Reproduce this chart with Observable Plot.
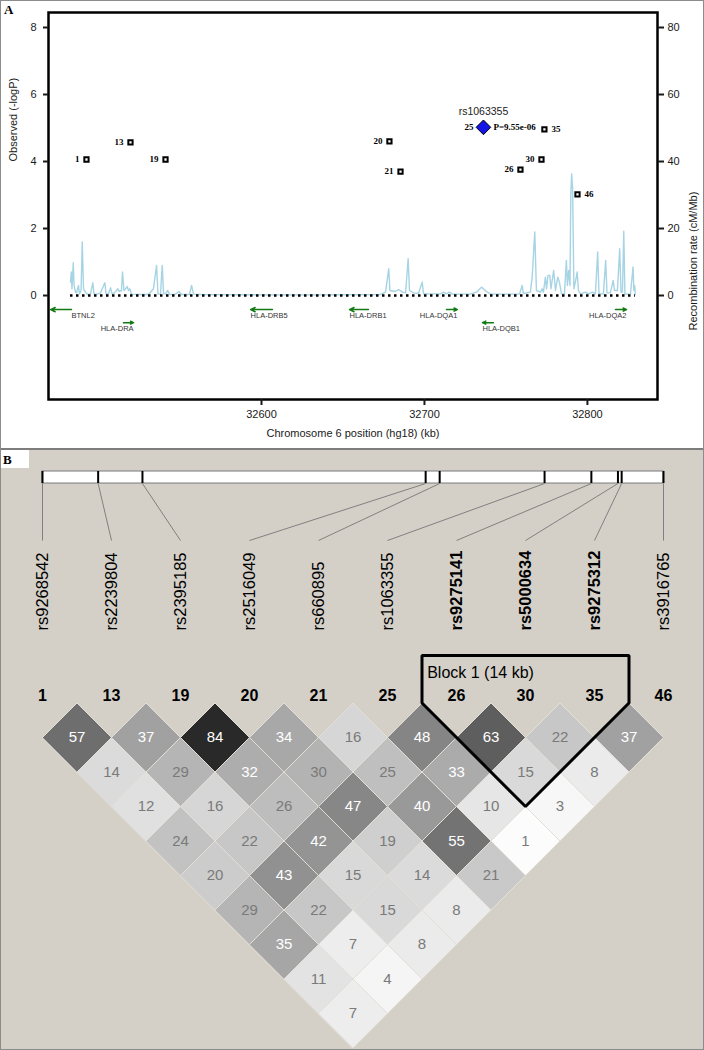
<!DOCTYPE html>
<html><head><meta charset="utf-8">
<script src="https://cdn.jsdelivr.net/npm/d3@7"></script>
<script src="https://cdn.jsdelivr.net/npm/@observablehq/plot@0.6"></script>
<style>
body{margin:0;background:#fff;}
#fig{position:relative;width:704px;height:1050px;overflow:hidden;}
#panelA{position:absolute;left:0;top:0;}
#panelB{position:absolute;left:0;top:449px;}
#panelA svg,#panelB svg{display:block;}
.tag{position:absolute;font-family:"Liberation Serif","Times New Roman",serif;font-weight:bold;font-size:13px;line-height:1;color:#000;}
#border{position:absolute;left:0;top:0;width:704px;height:1050px;box-sizing:border-box;border:1px solid #8c8c8c;pointer-events:none;}
#sep{position:absolute;left:0;top:448px;width:704px;height:2px;background:#7d7d7d;}
#tagB{left:1px;top:450px;width:28px;height:18px;background:#fff;padding:3px 0 0 2px;box-sizing:border-box;}
</style></head>
<body>
<div id="fig">
  <div id="panelA"></div>
  <div id="panelB"></div>
  <div id="sep"></div>
  <div id="border"></div>
  <div class="tag" style="left:4px;top:3px;">A</div>
  <div class="tag" id="tagB">B</div>
</div>
<script>
// ---------------- data ----------------
const snpIds  = ["1","13","19","20","21","25","26","30","35","46"];
const snpRs   = ["rs9268542","rs2239804","rs2395185","rs2516049","rs660895","rs1063355","rs9275141","rs5000634","rs9275312","rs3916765"];
const snpKb   = [32492.6, 32519.6, 32541.1, 32678.5, 32685.3, 32736.2, 32758.9, 32771.8, 32773.6, 32793.9];
const snpLogP = [4.06, 4.57, 4.06, 4.60, 3.70, 5.02, 3.76, 4.06, 4.96, 3.02];
const leadIndex = 5;
const leadPText = "P=9.55e-06";
const blockSnps = [6, 8];
const blockLabel = "Block 1 (14 kb)";

const geneNames  = ["BTNL2","HLA-DRA","HLA-DRB5","HLA-DRB1","HLA-DQA1","HLA-DQB1","HLA-DQA2"];
const geneStart  = [32470.6, 32515.3, 32593.3, 32654.0, 32713.5, 32735.6, 32817.2];
const geneEnd    = [32483.4, 32521.5, 32606.7, 32665.6, 32720.2, 32742.3, 32824.0];
const geneStrand = [-1, 1, -1, -1, 1, -1, 1];
const geneRow    = [0, 1, 0, 0, 0, 1, 0];

// recombination rate (cM/Mb) along position (kb)
const recombination = [[32482.8,4],[32483.3,7],[32483.7,2],[32484.5,9.8],[32485.0,3],[32485.9,1],[32486.5,0.8],[32487.7,3],[32488.3,0.5],[32489.3,1.5],[32490.0,16],[32490.8,2],[32492.0,1],[32493.3,0.3],[32495.1,0.5],[32496.5,3.8],[32497.2,0.5],[32499.4,0.4],[32501.2,0.8],[32503.9,3.8],[32504.6,0.5],[32506.1,0.5],[32507.4,2.3],[32508.3,0.5],[32509.8,0.8],[32511.8,2],[32512.6,1.2],[32514.1,1.5],[32514.7,7],[32515.6,1.5],[32516.6,2],[32517.6,2.7],[32518.4,1.5],[32519.2,2],[32520.2,0.4],[32525.8,0.3],[32530.7,0.3],[32533.7,2],[32535.6,9],[32536.5,0.4],[32538.0,0.4],[32539.1,9],[32539.9,0.5],[32541.1,0.5],[32542.5,1.5],[32543.6,0.3],[32547.2,0.4],[32549.3,1.2],[32550.9,0.3],[32555.8,0.3],[32557.1,3],[32558.3,0.4],[32562.6,0.3],[32599.4,0.2],[32636.2,0.2],[32673.0,0.3],[32676.1,1],[32678.1,8],[32678.8,1.5],[32682.2,1.2],[32684.1,1.8],[32686.5,1],[32688.4,0.8],[32690.0,11],[32690.8,1.5],[32693.3,0.8],[32696.3,0.6],[32698.6,4],[32699.4,0.5],[32709.8,0.5],[32711.7,1],[32713.5,0.5],[32715.3,1],[32717.2,0.4],[32728.2,0.4],[32731.9,1],[32735.0,2.5],[32738.0,1.2],[32740.5,0.4],[32758.3,0.4],[32759.9,3],[32760.7,0.6],[32765.0,1],[32766.1,5.5],[32767.7,19],[32768.7,1.5],[32771.2,1],[32772.2,2],[32773.0,1],[32774.2,5.5],[32774.9,2],[32775.8,6],[32776.9,6],[32777.6,2],[32779.3,7.5],[32780.4,1.5],[32781.8,5.5],[32782.8,4],[32784.1,0.5],[32785.9,0.5],[32787.1,10.5],[32787.7,3],[32788.5,7.5],[32789.3,3],[32789.8,30],[32790.3,36.3],[32790.9,32],[32791.7,2],[32792.6,4],[32793.7,7],[32794.5,1.5],[32795.7,0.5],[32798.8,1],[32800.6,0.5],[32803.1,1],[32804.9,0.5],[32806.3,13],[32807.1,0.5],[32809.8,0.5],[32811.2,10.5],[32812.0,0.8],[32814.1,0.8],[32815.8,4.5],[32816.6,1.5],[32818.4,1.5],[32819.8,14],[32820.6,1],[32821.5,1],[32822.3,19.2],[32823.0,0.4],[32826.4,0.4],[32828.0,8.5],[32828.5,1.5],[32829.0,3],[32829.4,0.3]];

// LD r^2 (x100), row k = SNP pairs k+1 apart
const ldRows = [
  [57,37,84,34,16,48,63,22,37],
  [14,29,32,30,25,33,15,8],
  [12,16,26,47,40,10,3],
  [24,22,42,19,55,1],
  [20,43,15,14,21],
  [29,22,15,8],
  [35,7,8],
  [11,4],
  [7]
];

const xTicksA = [32600, 32700, 32800];
const yTicksA = [0, 2, 4, 6, 8];

// ---------------- panel A ----------------
const snps = snpIds.map((id, i) => ({id, rs: snpRs[i], kb: snpKb[i], logp: snpLogP[i], i}));
const recData = recombination.map(([kb, rate]) => ({kb, rate}));
const genes = geneNames.map((name, i) => ({name, start: geneStart[i], end: geneEnd[i], strand: geneStrand[i], row: geneRow[i]}));
const xDomA = [32469.3, 32843.0];
const geneY = g => -0.42 - 0.39 * g.row;
const rightLabelled = new Set(["35", "46"]);
const lead = snps[leadIndex];
const others = snps.filter(d => d.i !== leadIndex);
const recExtent = d3.extent(recData, d => d.kb);
const serif = "'Liberation Serif','Times New Roman',serif";
const sans = "Arial,'Liberation Sans',Helvetica,sans-serif";

const plotA = Plot.plot({
  width: 704, height: 449,
  marginLeft: 48, marginRight: 47, marginTop: 12, marginBottom: 50,
  x: {domain: xDomA},
  y: {domain: [-3.104, 8.448]},
  style: {background: "white", fontFamily: sans, fontSize: "11px", color: "#1a1a1a"},
  marks: [
    Plot.line(recData, {x: "kb", y: d => d.rate / 10, stroke: "#a6d4e4", strokeWidth: 1.4}),
    Plot.ruleY([0], {x1: recExtent[0], x2: recExtent[1], stroke: "black", strokeWidth: 2.5, strokeDasharray: "2.5,3.5"}),
    Plot.arrow(genes, {
      x1: d => d.strand > 0 ? d.start : d.end, x2: d => d.strand > 0 ? d.end : d.start,
      y1: geneY, y2: geneY, stroke: "#137a13", strokeWidth: 1.5, headLength: 5, headAngle: 50
    }),
    Plot.text(genes.filter(g => g.strand < 0), {
      x: g => (g.start - xDomA[0] < 3 ? g.end : g.start), y: geneY, text: "name",
      textAnchor: "start", lineAnchor: "top", dy: 3, fontSize: 7.5, fill: "#333"
    }),
    Plot.text(genes.filter(g => g.strand > 0), {
      x: "end", y: geneY, text: "name",
      textAnchor: "end", lineAnchor: "top", dy: 3, fontSize: 7.5, fill: "#333"
    }),
    Plot.dot(others, {x: "kb", y: "logp", symbol: "square", r: 2.4, fill: "white", stroke: "black", strokeWidth: 2}),
    Plot.dot([lead], {x: "kb", y: "logp", symbol: "diamond2", r: 6.6, fill: "#1414e6", stroke: "black", strokeWidth: 1}),
    Plot.text(others.filter(d => !rightLabelled.has(d.id)), {
      x: "kb", y: "logp", text: "id", textAnchor: "end", dx: -7,
      fontFamily: serif, fontWeight: "bold", fontSize: 9, fill: "black"
    }),
    Plot.text(others.filter(d => rightLabelled.has(d.id)), {
      x: "kb", y: "logp", text: "id", textAnchor: "start", dx: 7,
      fontFamily: serif, fontWeight: "bold", fontSize: 9, fill: "black"
    }),
    Plot.text([lead], {x: "kb", y: "logp", text: "id", textAnchor: "end", dx: -10,
      fontFamily: serif, fontWeight: "bold", fontSize: 9, fill: "black"}),
    Plot.text([lead], {x: "kb", y: "logp", text: () => leadPText, textAnchor: "start", dx: 10,
      fontFamily: serif, fontWeight: "bold", fontSize: 9, fill: "black"}),
    Plot.text([lead], {x: "kb", y: "logp", text: "rs", dy: -16, fontSize: 10.5, fill: "#222"}),
    Plot.frame({stroke: "black", strokeWidth: 2.5}),
    Plot.axisX(xTicksA, {anchor: "bottom", tickSize: 6, tickPadding: 5, tickFormat: d3.format("d"), label: null, strokeWidth: 2}),
    Plot.axisY(yTicksA, {anchor: "left", tickSize: 5, tickPadding: 7, label: null, strokeWidth: 2}),
    Plot.axisY(yTicksA, {anchor: "right", tickSize: 6, tickPadding: 4, tickFormat: d => String(d * 10), label: null, strokeWidth: 2}),
    Plot.text(["Observed (-logP)"], {frameAnchor: "left", y: 4, rotate: -90, dx: -35, fontSize: 11}),
    Plot.text(["Recombination rate (cM/Mb)"], {frameAnchor: "right", y: 3.1, rotate: -90, dx: 36, fontSize: 11}),
    Plot.text(["Chromosome 6 position (hg18) (kb)"], {frameAnchor: "bottom", dy: 37, fontSize: 11})
  ]
});
document.getElementById("panelA").append(plotA);

// ---------------- panel B ----------------
const N = snps.length;
const kbMin = snpKb[0], kbMax = snpKb[N - 1];
const toIdx = kb => (kb - kbMin) / (kbMax - kbMin) * (N - 1);
const cells = [];
ldRows.forEach((row, k) => row.forEach((v, m) => {
  const i = m, j = m + k + 1;
  cells.push({id: i + "-" + j, v, cx: (i + j) / 2, cy: (j - i) / 2});
}));
const diamondPts = cells.flatMap(c =>
  [[c.cx - 0.5, c.cy], [c.cx, c.cy - 0.5], [c.cx + 0.5, c.cy], [c.cx, c.cy + 0.5]]
    .map(([x, y]) => ({x, y, id: c.id, v: c.v})));

// layout (in the panel's index units)
const barTop = -3.355, barBottom = -3.181, linkEnd = -2.355, labelBase = -1.051;
const numY = -0.109, blockTop = -0.688, blockTextY = -0.442;
const [b0, b1] = blockSnps;
const blockPts = [
  {x: b0 - 0.5, y: blockTop}, {x: b1 + 0.5, y: blockTop}, {x: b1 + 0.5, y: 0},
  {x: (b0 + b1) / 2, y: (b1 - b0) / 2 + 0.5}, {x: b0 - 0.5, y: 0}
];
const inBlock = d => d.i >= b0 && d.i <= b1;

const plotB = Plot.plot({
  width: 704, height: 601,
  marginLeft: 0, marginRight: 0, marginTop: 0, marginBottom: 0,
  x: {domain: [-42 / 69, 662 / 69], axis: null},
  y: {domain: [-3.674, 5.036], reverse: true, axis: null},
  color: {type: "linear", domain: [0, 100], range: ["#ffffff", "#000000"], interpolate: "rgb"},
  style: {background: "#d4d0c8", fontFamily: sans, color: "black"},
  marks: [
    Plot.rect([{a: toIdx(kbMin), b: toIdx(kbMax)}], {x1: "a", x2: "b", y1: barTop, y2: barBottom, fill: "white", stroke: "#7a7a7a"}),
    Plot.ruleX(snps, {x: d => toIdx(d.kb), y1: barTop, y2: barBottom, stroke: "black", strokeWidth: 2}),
    Plot.link(snps, {x1: d => toIdx(d.kb), y1: barBottom, x2: "i", y2: linkEnd, stroke: "#808080", strokeWidth: 1}),
    Plot.text(snps.filter(d => !inBlock(d)), {x: "i", y: labelBase, text: "rs", rotate: -90, textAnchor: "start", fontSize: 16.5, fill: "black"}),
    Plot.text(snps.filter(inBlock), {x: "i", y: labelBase, text: "rs", rotate: -90, textAnchor: "start", fontSize: 16.5, fontWeight: "bold", fill: "black"}),
    Plot.text(snps, {x: "i", y: numY, text: "id", fontSize: 16, fontWeight: "bold", fill: "black"}),
    Plot.line(diamondPts, {x: "x", y: "y", z: "id", fill: "v", stroke: "#e3dfd7", strokeWidth: 1, curve: "linear-closed"}),
    Plot.text(cells.filter(c => c.v > 31), {x: "cx", y: "cy", text: d => String(d.v), fontSize: 15, fill: "white"}),
    Plot.text(cells.filter(c => c.v <= 31), {x: "cx", y: "cy", text: d => String(d.v), fontSize: 15, fill: "#7a7a7a"}),
    Plot.line(blockPts, {x: "x", y: "y", stroke: "black", strokeWidth: 3, curve: "linear-closed", strokeLinejoin: "miter"}),
    Plot.text([blockLabel], {x: b0 - 0.5 + 0.075, y: blockTextY, text: d => d, textAnchor: "start", fontSize: 16, fill: "black"})
  ]
});
document.getElementById("panelB").append(plotB);
</script>
</body></html>
